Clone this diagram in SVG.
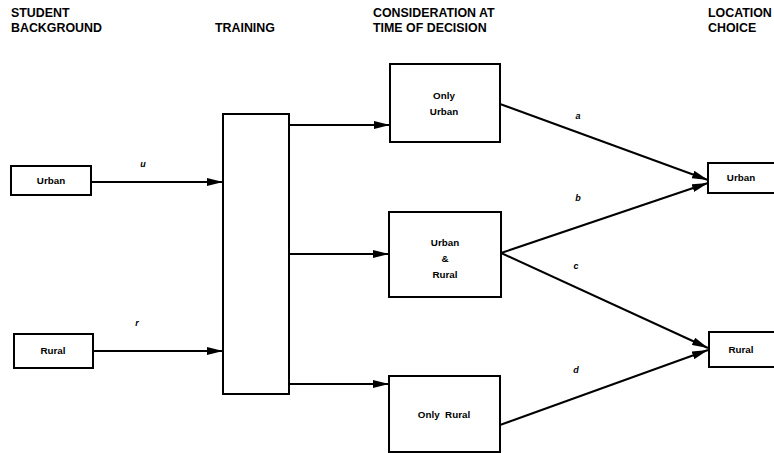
<svg xmlns="http://www.w3.org/2000/svg" width="774" height="453" viewBox="0 0 774 453">
<style>
.box{fill:#fff;stroke:#000;stroke-width:2}
.hd{font-family:"Liberation Sans",Arial,sans-serif;font-weight:bold;font-size:12.4px;fill:#000}
.lb{font-family:"Liberation Sans",Arial,sans-serif;font-weight:bold;font-size:9.8px;fill:#000;text-anchor:middle}
.it{font-family:"Liberation Sans",Arial,sans-serif;font-style:italic;font-weight:bold;font-size:9px;fill:#000;text-anchor:middle}
.ln{stroke:#000;stroke-width:2;fill:none;marker-end:url(#ah)}
</style>
<defs>
<marker id="ah" viewBox="0 0 16 8" refX="16" refY="4" markerWidth="16" markerHeight="8" markerUnits="userSpaceOnUse" orient="auto">
<path d="M0,0 L16,4 L0,8 Z" fill="#000"/>
</marker>
</defs>
<rect width="774" height="453" fill="#fff"/>
<g id="headers">
<text class="hd" x="11" y="17">STUDENT</text>
<text class="hd" x="11" y="32">BACKGROUND</text>
<text class="hd" x="215" y="32">TRAINING</text>
<text class="hd" x="373" y="17">CONSIDERATION AT</text>
<text class="hd" x="373" y="32">TIME OF DECISION</text>
<text class="hd" x="708" y="17">LOCATION</text>
<text class="hd" x="708" y="32">CHOICE</text>
</g>
<g id="connectors">
<line class="ln" x1="91" y1="182" x2="223" y2="182"/>
<line class="ln" x1="93" y1="351" x2="223" y2="351"/>
<line class="ln" x1="289" y1="125" x2="390" y2="125"/>
<line class="ln" x1="289" y1="254" x2="389" y2="254"/>
<line class="ln" x1="289" y1="384" x2="389" y2="384"/>
<line class="ln" x1="500" y1="104" x2="708" y2="180"/>
<line class="ln" x1="501" y1="253" x2="708" y2="183"/>
<line class="ln" x1="501" y1="253" x2="708" y2="348"/>
<line class="ln" x1="500" y1="425" x2="708" y2="350"/>
<text class="it" x="143" y="167">u</text>
<text class="it" x="137" y="326">r</text>
<text class="it" x="578" y="119">a</text>
<text class="it" x="578" y="201">b</text>
<text class="it" x="576" y="269">c</text>
<text class="it" x="576" y="373">d</text>
</g>
<g id="src-urban"><rect class="box" x="11" y="166" width="80" height="29"/><text class="lb" x="51" y="184">Urban</text></g>
<g id="src-rural"><rect class="box" x="14" y="334" width="79" height="34"/><text class="lb" x="53" y="354">Rural</text></g>
<g id="training"><rect class="box" x="223" y="114" width="66" height="280"/></g>
<g id="only-urban"><rect class="box" x="390" y="64" width="110" height="78"/><text class="lb" x="444" y="99">Only</text><text class="lb" x="444" y="115">Urban</text></g>
<g id="urban-rural"><rect class="box" x="389" y="212" width="112" height="85"/><text class="lb" x="445" y="246">Urban</text><text class="lb" x="445" y="262">&amp;</text><text class="lb" x="445" y="278">Rural</text></g>
<g id="only-rural"><rect class="box" x="389" y="376" width="111" height="76"/><text class="lb" x="444" y="418">Only&#160; Rural</text></g>
<g id="dst-urban"><rect class="box" x="708" y="163" width="70" height="30"/><text class="lb" x="741" y="181">Urban</text></g>
<g id="dst-rural"><rect class="box" x="709" y="332" width="70" height="35"/><text class="lb" x="741" y="353">Rural</text></g>
</svg>
